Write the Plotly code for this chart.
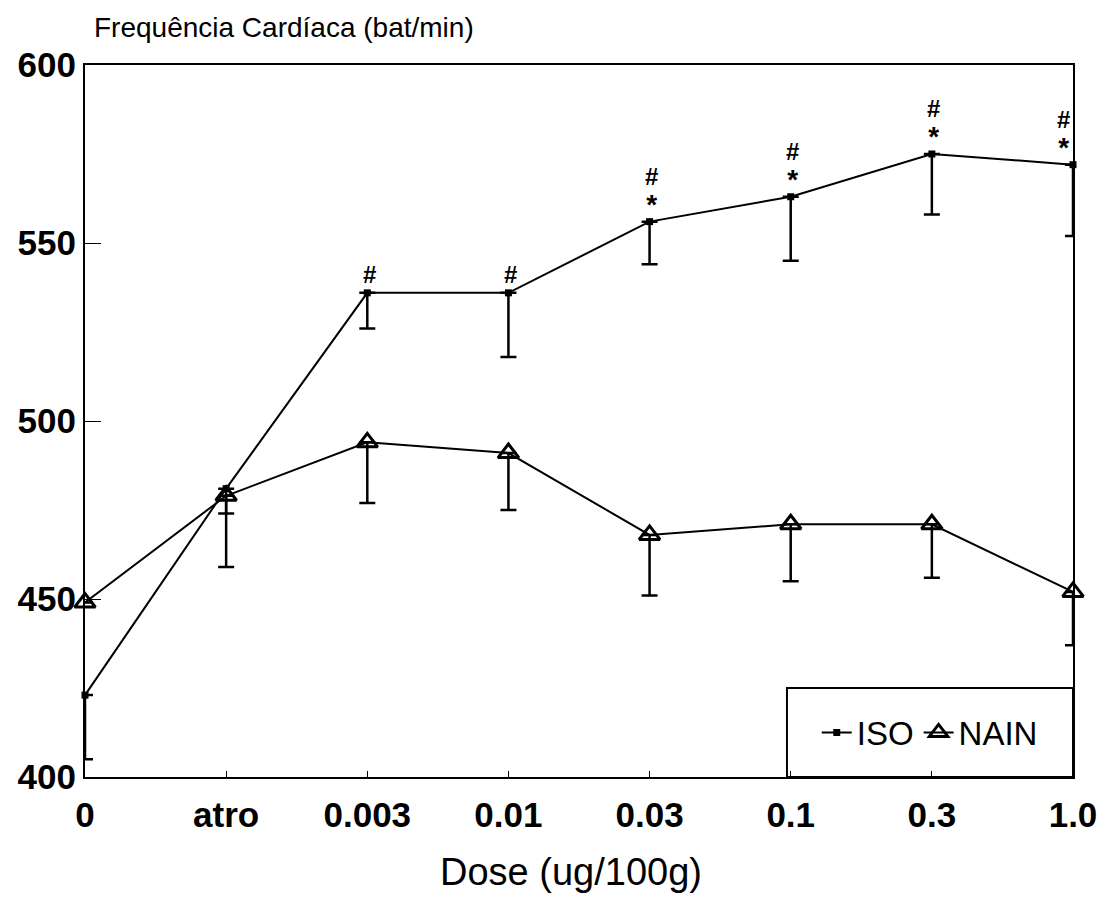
import plotly.graph_objects as go

doses = ["0", "atro", "0.003", "0.01", "0.03", "0.1", "0.3", "1.0"]
iso_mean = [423, 481, 536, 536, 556, 563, 575, 572]
iso_err = [18, 7, 10, 18, 12, 18, 17, 20]
nain_mean = [449, 479, 494, 491, 468, 471, 471, 452]
nain_err = [0, 20, 17, 16, 17, 16, 15, 15]
iso_star = [False, False, False, False, True, True, True, True]
iso_hash = [False, False, True, True, True, True, True, True]

FONT = "Liberation Sans, Arial, sans-serif"
xs = list(range(len(doses)))

fig = go.Figure()
fig.add_trace(go.Scatter(
    x=xs, y=iso_mean, name="ISO", mode="lines+markers",
    line=dict(color="black", width=2),
    marker=dict(symbol="square", size=7, color="black"),
    error_y=dict(type="data", symmetric=False, array=[0] * len(iso_err),
                 arrayminus=iso_err, color="black", thickness=2.5, width=8),
    cliponaxis=False,
))
fig.add_trace(go.Scatter(
    x=xs, y=nain_mean, name="NAIN", mode="lines+markers",
    line=dict(color="black", width=2),
    marker=dict(symbol="triangle-up-open", size=18, color="black",
                line=dict(width=3, color="black")),
    error_y=dict(type="data", symmetric=False, array=[0] * len(nain_err),
                 arrayminus=nain_err, color="black", thickness=2.5, width=8),
    cliponaxis=False,
))

annotations = []
for i, (m, s, h) in enumerate(zip(iso_mean, iso_star, iso_hash)):
    dx = -10 if i == len(doses) - 1 else 2
    if s and h:
        txt = ("<b><span style='font-size:24px'>#</span></b><br>"
               "<b><span style='font-size:28px'>*</span></b>")
        annotations.append(dict(x=xs[i], y=m, text=txt, showarrow=False,
                                xshift=dx, yshift=0, yanchor="bottom",
                                font=dict(family=FONT, size=22, color="black")))
    elif h:
        annotations.append(dict(x=xs[i], y=m, text="<b>#</b>", showarrow=False,
                                xshift=dx, yshift=18,
                                font=dict(family=FONT, size=24, color="black")))

annotations.append(dict(xref="paper", yref="paper", x=0.007, y=1.052,
                        xanchor="left", yanchor="middle",
                        text="Frequência Cardíaca (bat/min)", showarrow=False,
                        font=dict(family=FONT, size=28, color="black")))
annotations.append(dict(xref="paper", yref="paper", x=0.492, y=-0.133,
                        xanchor="center", yanchor="middle",
                        text="Dose (ug/100g)", showarrow=False,
                        font=dict(family=FONT, size=38, color="black")))

fig.update_layout(
    width=1106, height=903,
    margin=dict(l=85, r=33, t=65, b=126),
    paper_bgcolor="white", plot_bgcolor="white",
    showlegend=True,
    legend=dict(orientation="h", x=0.855, y=0.0625, xanchor="center",
                yanchor="middle", bgcolor="rgba(0,0,0,0)",
                font=dict(family=FONT, size=33, color="black"),
                itemwidth=30),
    annotations=annotations,
    shapes=[dict(type="rect", xref="paper", yref="paper",
                 x0=0.7105, x1=1.0, y0=0.0, y1=0.125,
                 line=dict(color="black", width=2), fillcolor="white",
                 layer="below")],
    xaxis=dict(range=[0, len(doses) - 1], tickmode="array", tickvals=xs,
               ticktext=["<b>%s</b>" % d for d in doses],
               showline=True, linecolor="black", linewidth=2, mirror=True,
               ticks="inside", ticklen=6, tickcolor="black",
               ticklabelstandoff=6, automargin=False,
               showgrid=False, zeroline=False,
               tickfont=dict(family=FONT, size=35, color="black")),
    yaxis=dict(range=[400, 600], tickmode="array",
               tickvals=[400, 450, 500, 550, 600],
               ticktext=["<b>400</b>", "<b>450</b>", "<b>500</b>", "<b>550</b>", "<b>600</b>"],
               showline=True, linecolor="black", linewidth=2, mirror=True,
               ticks="inside", ticklen=16, tickcolor="black",
               automargin=False,
               showgrid=False, zeroline=False,
               tickfont=dict(family=FONT, size=35, color="black")),
)

fig.write_html("out.html")
